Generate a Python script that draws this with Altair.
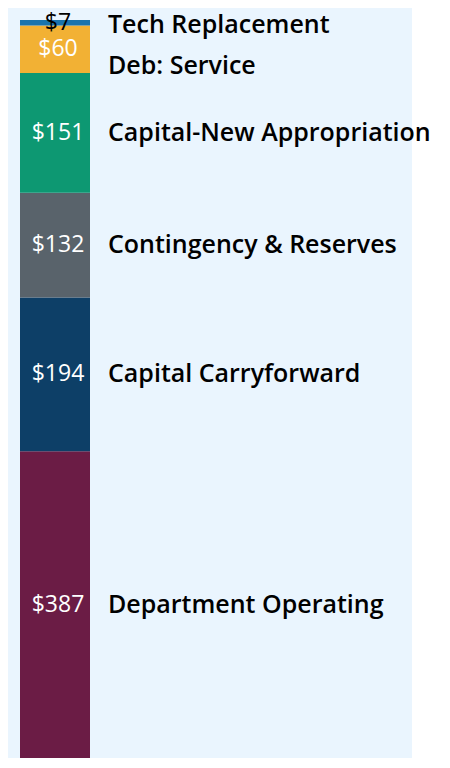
import altair as alt
import pandas as pd

categories = ["Department Operating", "Capital Carryforward", "Contingency & Reserves",
              "Capital-New Appropriation", "Deb: Service", "Tech Replacement"]
values = [387, 194, 132, 151, 60, 7]
value_labels = ["$387", "$194", "$132", "$151", "$60", "$7"]
colors = ["#6b1c45", "#0d3f67", "#59636b", "#0d9872", "#f2b134", "#1a74ad"]
label_colors = ["white", "white", "white", "white", "white", "black"]

df = pd.DataFrame({
    "category": categories,
    "value": values,
    "vlabel": value_labels,
    "order": list(range(len(categories))),
    "lcolor": label_colors,
})

total = sum(values)

base = alt.Chart(df).transform_stack(
    stack="value", groupby=[], as_=["v0", "v1"], sort=[alt.SortField("order")]
).transform_calculate(
    mid="(datum.v0 + datum.v1) / 2",
    # small segments: side label sits toward the lower part of the segment
    lab="datum.value < 100 ? datum.v0 + (datum.v1 - datum.v0) * 0.15 : (datum.v0 + datum.v1) / 2",
)

yscale = alt.Scale(domain=[0, total], nice=False, zero=True, range=[750, 12])

bars = base.mark_bar().encode(
    x=alt.value(12),
    x2=alt.value(82),
    y=alt.Y("v0:Q", scale=yscale, axis=None),
    y2="v1:Q",
    color=alt.Color("category:N", scale=alt.Scale(domain=categories, range=colors), legend=None),
)

vals = base.mark_text(font="Open Sans", fontSize=23, align="center", baseline="middle").encode(
    y=alt.Y("mid:Q", scale=yscale),
    x=alt.value(50),
    text="vlabel:N",
    color=alt.Color("lcolor:N", scale=None),
)

cats = base.mark_text(font="Open Sans", fontWeight=600, fontSize=25, align="left",
                      baseline="middle", color="black").encode(
    y=alt.Y("lab:Q", scale=yscale),
    x=alt.value(100),
    text="category:N",
)

chart = alt.layer(bars, vals, cats).properties(
    width=404, height=750,
    background="white",
    padding={"left": 0, "top": 0, "right": 30, "bottom": 0},
    autosize=alt.AutoSizeParams(type="none"),
).configure_view(stroke=None, fill="#eaf5fe")

chart.save("out.html", embed_options={"renderer": "svg", "actions": False})
